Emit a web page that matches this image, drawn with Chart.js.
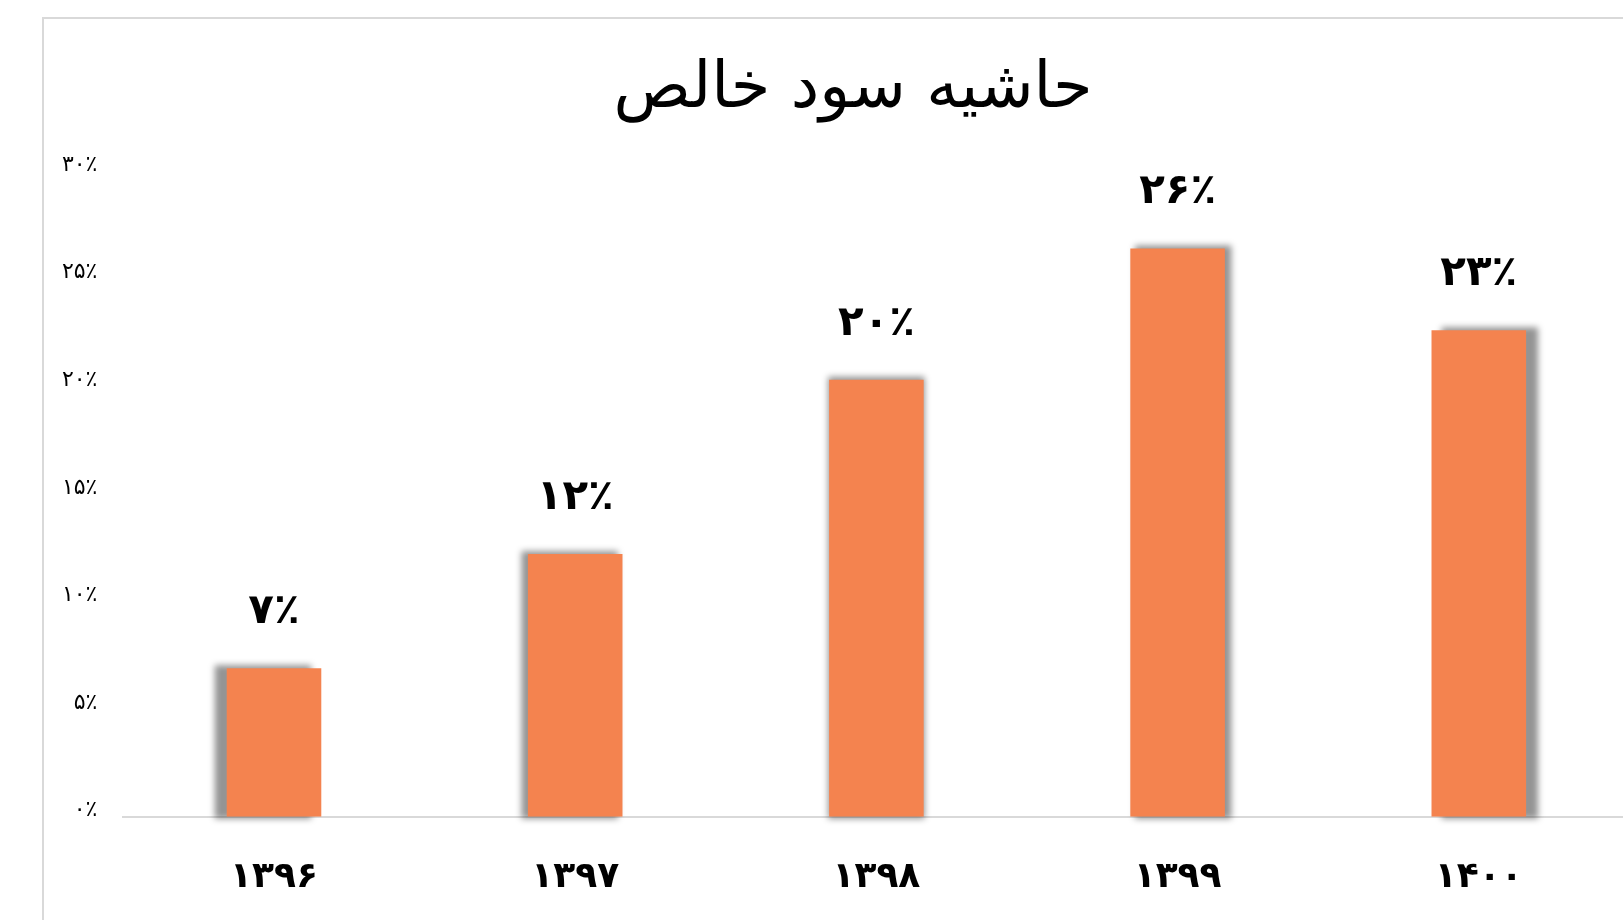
<!DOCTYPE html>
<html>
<head>
<meta charset="utf-8">
<script src="https://cdn.jsdelivr.net/npm/chart.js@4.4.0/dist/chart.umd.min.js"></script>
<style>
  html, body { margin: 0; padding: 0; background: #fff; overflow: hidden; width: 1623px; height: 920px; }
  .frame { position: absolute; left: 42px; top: 17px; width: 3000px; height: 3000px;
           border-left: 2px solid #d9d9d9; border-top: 2px solid #d9d9d9; }
  #marginChart { position: absolute; left: 0; top: 0; }
</style>
</head>
<body>
<div class="frame"></div>
<canvas id="marginChart" width="1666" height="920"></canvas>
<script>
const chartTitle = "حاشیه سود خالص";
const years = ["۱۳۹۶", "۱۳۹۷", "۱۳۹۸", "۱۳۹۹", "۱۴۰۰"];
const netMargin = [6.9, 12.2, 20.3, 26.4, 22.6];
const marginLabels = ["۷٪", "۱۲٪", "۲۰٪", "۲۶٪", "۲۳٪"];
const yTickLabels = ["۰٪", "۵٪", "۱۰٪", "۱۵٪", "۲۰٪", "۲۵٪", "۳۰٪"];

const barColor = "#F4834F";

// the chart is cut off on the right, so the title sits left of the plot centre
const centredTitle = {
  id: "centredTitle",
  afterDraw(chart) {
    const ctx = chart.ctx;
    ctx.save();
    ctx.font = "64px 'DejaVu Sans'";
    ctx.fillStyle = "#000";
    ctx.textAlign = "center";
    ctx.textBaseline = "middle";
    ctx.fillText(chartTitle, 853, 90);
    ctx.restore();
  },
};

// soft perspective shadow behind each bar, leaning away from the middle
const barShadow = {
  id: "barShadow",
  beforeDatasetsDraw(chart) {
    const ctx = chart.ctx;
    const bars = chart.getDatasetMeta(0).data;
    const mid = (bars.length - 1) / 2;
    ctx.save();
    ctx.filter = "blur(3px)";
    ctx.fillStyle = "rgba(0, 0, 0, 0.42)";
    bars.forEach((bar, i) => {
      const p = bar.getProps(["x", "y", "base", "width"], true);
      const off = (i - mid) * 5.5;
      const left = p.x - p.width / 2 + off - 1;
      ctx.fillRect(left, p.y - 3, p.width + 2, p.base - p.y + 5);
    });
    ctx.restore();
  },
};

const valueLabels = {
  id: "valueLabels",
  afterDatasetsDraw(chart) {
    const ctx = chart.ctx;
    const bars = chart.getDatasetMeta(0).data;
    ctx.save();
    ctx.font = "bold 42px 'DejaVu Sans'";
    ctx.fillStyle = "#000";
    ctx.textAlign = "center";
    ctx.textBaseline = "middle";
    bars.forEach((bar, i) => {
      ctx.fillText(marginLabels[i], bar.x, bar.y - 56);
    });
    ctx.restore();
  },
};

const ctx = document.getElementById("marginChart").getContext("2d");

new Chart(ctx, {
  type: "bar",
  data: {
    labels: years,
    datasets: [
      {
        label: chartTitle,
        data: netMargin,
        backgroundColor: barColor,
        borderWidth: 0,
        barPercentage: 0.314,
        categoryPercentage: 1,
      },
    ],
  },
  options: {
    responsive: false,
    animation: false,
    layout: {
      padding: { left: 0, right: 36.6, top: 171, bottom: 0 },
    },
    plugins: {
      legend: { display: false },
      tooltip: { enabled: false },
      title: { display: false },
    },
    scales: {
      x: {
        grid: { display: false },
        border: { display: true, color: "#d9d9d9", width: 2 },
        ticks: {
          color: "#000",
          font: { family: "'DejaVu Sans'", size: 36, weight: "bold" },
          padding: 31,
        },
        afterFit(axis) {
          axis.height = 103.3;
        },
      },
      y: {
        min: 0,
        max: 30,
        grid: { display: false },
        border: { display: false },
        ticks: {
          stepSize: 5,
          color: "#000",
          padding: 18,
          labelOffset: -6,
          font: { family: "'DejaVu Sans'", size: 22 },
          callback: (value) => yTickLabels[value / 5],
        },
        afterFit(axis) {
          axis.width = 123.4;
        },
      },
    },
  },
  plugins: [barShadow, valueLabels, centredTitle],
});
</script>
</body>
</html>
